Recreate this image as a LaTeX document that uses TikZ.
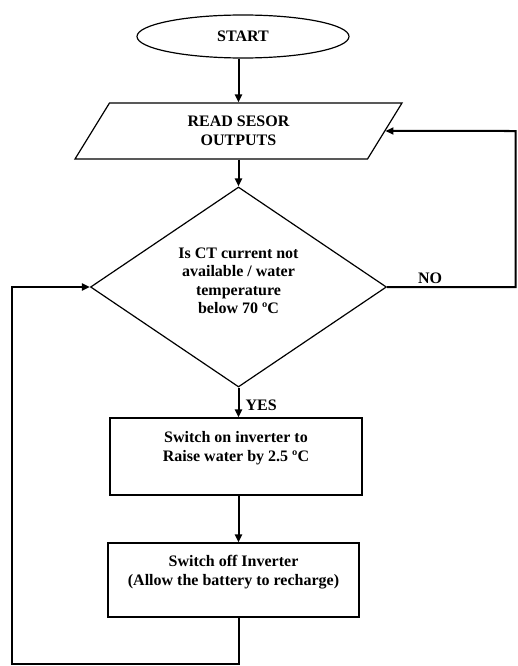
\documentclass[tikz,border=0pt]{standalone}
\usepackage{fontspec}
\setmainfont{Liberation Serif}
\usetikzlibrary{shapes.geometric,arrows.meta}
\begin{document}
\begin{tikzpicture}[x=1pt,y=-1pt,
  every node/.style={font=\fontsize{16}{18.5}\selectfont\bfseries, align=center},
  shapeline/.style={draw=black, line width=1.2pt, inner sep=0pt},
  arr/.style={draw=black, line width=2pt, -{Triangle[length=8pt,width=7pt]}},
  conn/.style={draw=black, line width=2pt}]
\useasboundingbox (0,0) rectangle (517,666);
\node[shapeline, ellipse, minimum width=212pt, minimum height=43pt] (s) at (243,36.5) {START};
\node[shapeline, trapezium, trapezium left angle=40.3, trapezium right angle=139.7,
  trapezium stretches body=true, minimum width=327pt, minimum height=56pt] (p) at (238.5,131) {READ SESOR\\OUTPUTS};
\node[shapeline, diamond, minimum width=296pt, minimum height=200pt] (d) at (238.5,287) {};
\node (dt) at (238.5,281) {Is CT current not\\available / water\\temperature\\below 70 ºC};
\node[shapeline, rectangle, minimum width=252pt, minimum height=77pt] (b1) at (236,456.5) {};
\node (b1t) at (236,448) {Switch on inverter to\\Raise water by 2.5 ºC};
\node[shapeline, rectangle, minimum width=251pt, minimum height=74pt] (b2) at (233.5,580) {};
\node (b2t) at (233.5,572) {Switch off Inverter\\(Allow the battery to recharge)};
\node[anchor=west] (yes) at (242,405) {YES};
\node (no) at (430,278) {NO};
\coordinate (nr) at (515.5,287);
\coordinate (nt) at (515.5,131);
\coordinate (bl) at (238.5,664);
\coordinate (bk) at (12,664);
\coordinate (lt) at (12,287);
\draw[arr] (s.south -| d.north) -- (p.north -| d.north);
\draw[arr] (p.south -| d.north) -- (d.north);
\draw[arr] (d.south) -- (b1.north -| d.south);
\draw[arr] (b1.south -| d.south) -- (b2.north -| d.south);
\draw[arr] (d.east) -- (nr) -- (nt) -- (p.east);
\draw[arr] (b2.south -| d.south) -- (bl) -- (bk) -- (lt) -- (d.west);
\end{tikzpicture}
\end{document}
